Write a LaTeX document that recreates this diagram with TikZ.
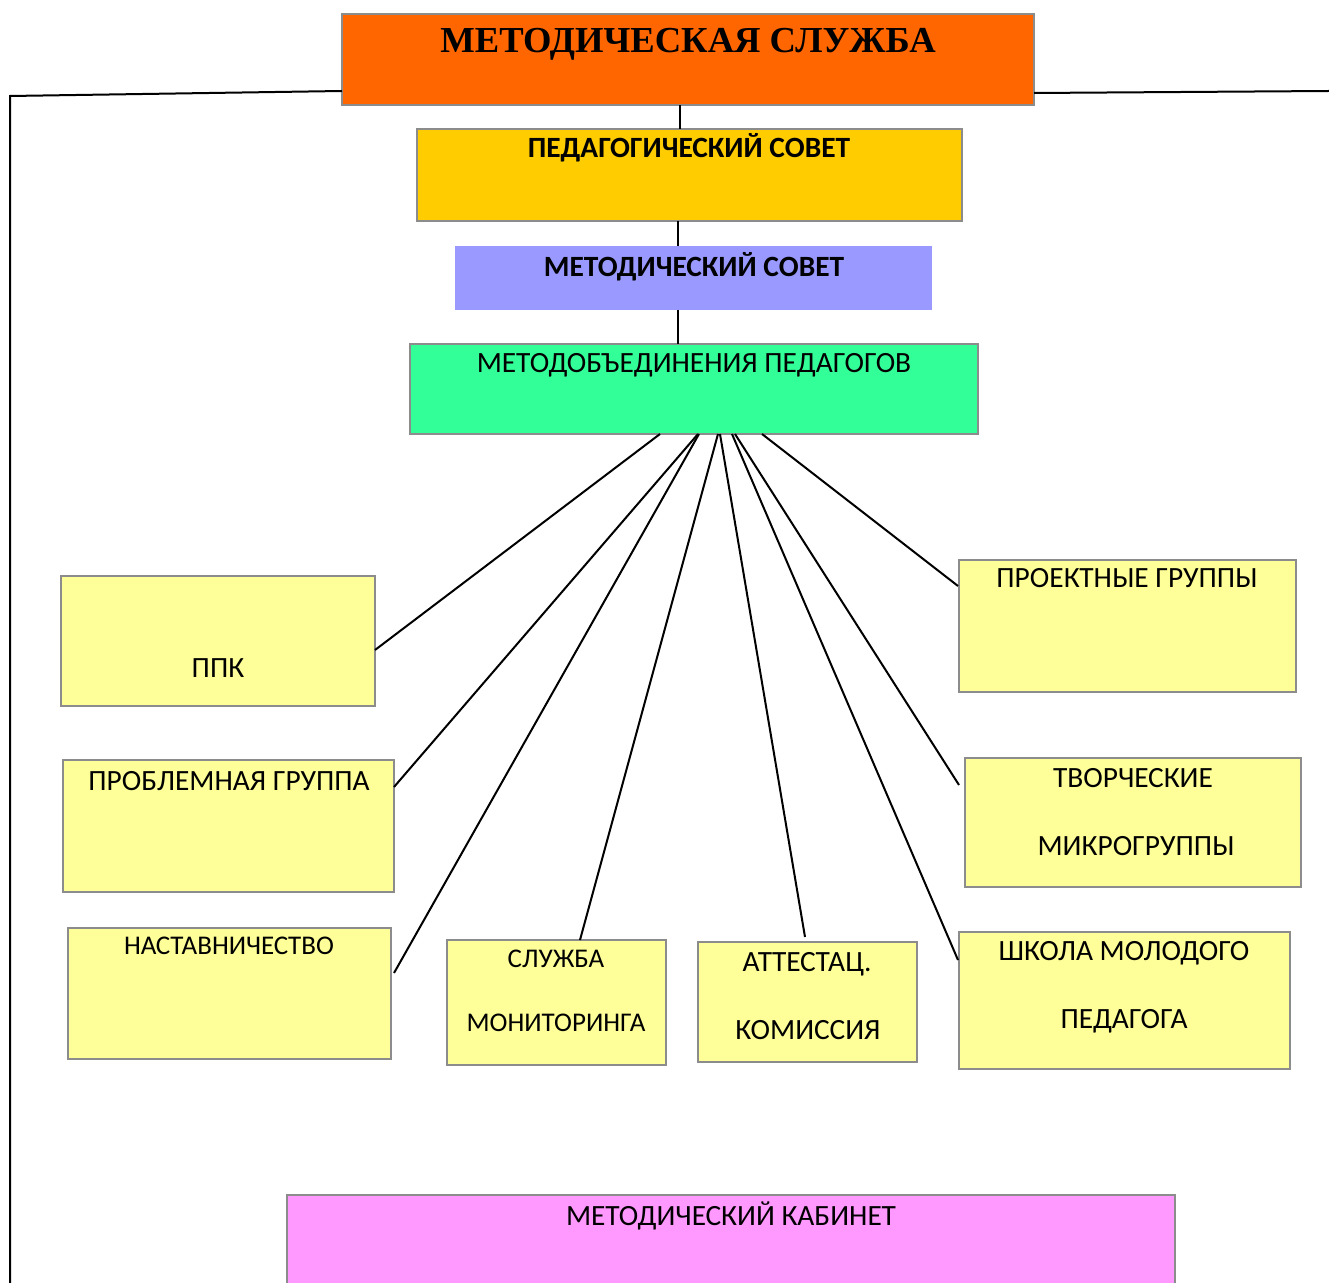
\documentclass[tikz,border=0pt]{standalone}
\usepackage{fontspec}
\setmainfont{Carlito}
\newfontfamily\titlefont{Liberation Serif}
\usetikzlibrary{calc}
\definecolor{boxgray}{HTML}{8C8C8C}
\definecolor{corange}{HTML}{FF6600}
\definecolor{cgold}{HTML}{FFCC00}
\definecolor{clav}{HTML}{9999FF}
\definecolor{cmint}{HTML}{33FF99}
\definecolor{cyel}{HTML}{FFFF99}
\definecolor{cpink}{HTML}{FF99FF}
\tikzset{
  box/.style={draw=boxgray, line width=1pt, inner sep=0pt, outer sep=0pt, anchor=north west},
  lbl/.style={anchor=base, inner sep=0pt, font=\fontsize{14.7}{17}\selectfont},
  lblsm/.style={anchor=base, inner sep=0pt, font=\fontsize{13.5}{16}\selectfont},
  lblb/.style={anchor=base, inner sep=0pt, font=\fontsize{14.7}{17}\selectfont\bfseries},
  conn/.style={draw=black, line width=1pt},
}
\begin{document}
\begin{tikzpicture}[x=0.5pt,y=-0.5pt]
\useasboundingbox (0,0) rectangle (1329,1283);
\clip (0,0) rectangle (1329,1283);
% boxes
\node[box, fill=corange, minimum width=346pt, minimum height=45.5pt] (title) at (342,14) {};
\node[box, fill=cgold, minimum width=272.5pt, minimum height=46pt] (ps) at (417,129) {};
\node[box, draw=none, fill=clav, minimum width=238.5pt, minimum height=32pt] (ms) at (455,246) {};
\node[box, fill=cmint, minimum width=284pt, minimum height=45pt] (mo) at (410,344) {};
\node[box, fill=cyel, minimum width=157pt, minimum height=65pt] (ppk) at (61,576) {};
\node[box, fill=cyel, minimum width=165.5pt, minimum height=66pt] (pg) at (63,760) {};
\node[box, fill=cyel, minimum width=161.5pt, minimum height=65.5pt] (nast) at (68,928) {};
\node[box, fill=cyel, minimum width=109.5pt, minimum height=62.5pt] (mon) at (447,940) {};
\node[box, fill=cyel, minimum width=109.5pt, minimum height=60pt] (att) at (698,942) {};
\node[box, fill=cyel, minimum width=165.5pt, minimum height=68.5pt] (shk) at (959,932) {};
\node[box, fill=cyel, minimum width=168.5pt, minimum height=66pt] (proj) at (959,560) {};
\node[box, fill=cyel, minimum width=168pt, minimum height=64.5pt] (tvor) at (965,758) {};
\node[box, fill=cpink, minimum width=444pt, minimum height=47.5pt] (kab) at (287,1195) {};
% texts
\node[anchor=base, inner sep=0pt, font=\titlefont\fontsize{18.3}{21}\selectfont\bfseries] (t0) at (688,53) {МЕТОДИЧЕСКАЯ СЛУЖБА};
\node[lblb] (t1) at (689,158) {ПЕДАГОГИЧЕСКИЙ СОВЕТ};
\node[lblb] (t2) at (694,277) {МЕТОДИЧЕСКИЙ СОВЕТ};
\node[lbl] (t3) at (694,373) {МЕТОДОБЪЕДИНЕНИЯ ПЕДАГОГОВ};
\node[lbl] (t4) at (218,677) {ППК};
\node[lbl] (t5) at (229,790) {ПРОБЛЕМНАЯ ГРУППА};
\node[lblsm] (t6) at (229,954) {НАСТАВНИЧЕСТВО};
\node[lblsm] (t7) at (556,967) {СЛУЖБА};
\node[lblsm] (t8) at (556,1031) {МОНИТОРИНГА};
\node[lbl] (t9) at (807,971) {АТТЕСТАЦ.};
\node[lbl] (t10) at (808,1039) {КОМИССИЯ};
\node[lbl] (t11) at (1124,960) {ШКОЛА МОЛОДОГО};
\node[lbl] (t12) at (1124,1028) {ПЕДАГОГА};
\node[lbl] (t13) at (1127,588) {ПРОЕКТНЫЕ ГРУППЫ};
\node[lbl] (t14) at (1133,787) {ТВОРЧЕСКИЕ};
\node[lbl] (t15) at (1136,855) {МИКРОГРУППЫ};
\node[lbl] (t16) at (731,1225) {МЕТОДИЧЕСКИЙ КАБИНЕТ};
% frame lines
\coordinate (lc) at (10,96);
\coordinate (lb) at (10,1290);
\coordinate (rc) at (1329,91);
\draw[conn] ($(title.south west)+(0,-14)$) -- (lc) -- (lb);
\draw[conn] ($(title.south east)+(0,-12)$) -- (rc);
% vertical connectors
\draw[conn] ($(title.south west)+(338,0)$) -- ($(ps.north west)+(263,0)$);
\draw[conn] ($(ps.south west)+(261,0)$) -- ($(ms.north west)+(223,0)$);
\draw[conn] ($(ms.south west)+(223,0)$) -- ($(mo.north west)+(268,0)$);
% fan connectors
\draw[conn] ($(mo.south west)+(250,0)$) -- ($(ppk.north east)+(0,74)$);
\draw[conn] ($(mo.south west)+(288,0)$) -- ($(pg.north east)+(0,27)$);
\draw[conn] ($(mo.south west)+(289,0)$) -- ($(nast.north east)+(3,45)$);
\draw[conn] ($(mo.south west)+(308,0)$) -- ($(mon.north west)+(133,0)$);
\draw[conn] ($(mo.south west)+(310,0)$) -- ($(att.north west)+(107,-5)$);
\draw[conn] ($(mo.south west)+(322,0)$) -- ($(shk.north west)+(-1,28)$);
\draw[conn] ($(mo.south west)+(325,0)$) -- ($(tvor.north west)+(-6,27)$);
\draw[conn] ($(mo.south west)+(352,0)$) -- ($(proj.north west)+(-1,26)$);
\end{tikzpicture}
\end{document}
